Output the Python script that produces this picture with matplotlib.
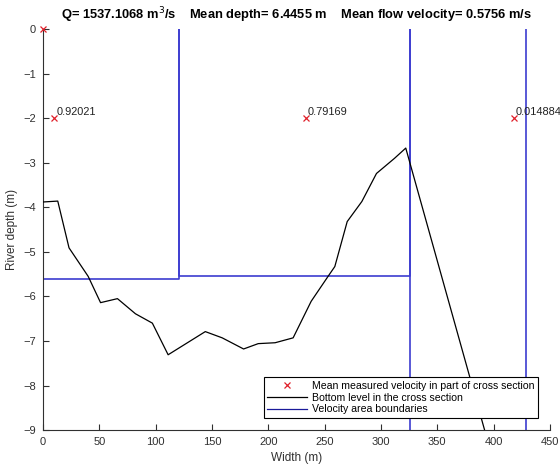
import numpy as np
import matplotlib
matplotlib.use('Agg')
import matplotlib.pyplot as plt

plt.rcParams['font.family'] = ['Liberation Sans', 'DejaVu Sans']

# bottom profile of the cross section
bed_x = [0, 13, 23, 40, 51, 66, 82, 97, 111, 144, 159, 178, 191, 206, 222, 238, 253, 259, 270, 283, 296, 312, 322, 392]
bed_y = [-3.88, -3.86, -4.91, -5.55, -6.14, -6.05, -6.39, -6.6, -7.31, -6.79, -6.93, -7.18, -7.06, -7.04, -6.93,
         -6.11, -5.55, -5.33, -4.32, -3.87, -3.24, -2.9, -2.67, -9.0]

# velocity areas (left/right edges and depth)
area_left = [0, 121, 326]
area_right = [121, 326, 429]
area_depth = [5.6, 5.55, 9.5]

# measured velocity points
vel_x = [0, 10, 233, 418]
vel_y = [0, -2, -2, -2]
vel_labels = ['', '0.92021', '0.79169', '0.014884']

Q = 1537.1068
mean_depth = 6.4455
mean_vel = 0.5756

grey = '#303030'
blue = '#3c3cd0'

fig = plt.figure(figsize=(5.6, 4.7), dpi=100)
ax = fig.add_axes([0.077, 0.085, 0.905, 0.853])

ax.plot(vel_x, vel_y, 'x', color='#e0202a', markersize=5, mew=0.9, linestyle='none',
        label='Mean measured velocity in part of cross section', zorder=4, clip_on=False)
ax.plot(bed_x, bed_y, color='black', lw=0.9, label='Bottom level in the cross section', zorder=3)
for i in range(len(area_left)):
    x0, x1, d = area_left[i], area_right[i], area_depth[i]
    ax.plot([x0, x0, x1, x1], [0, -d, -d, 0], color=blue, lw=1.2,
            label='Velocity area boundaries' if i == 0 else None, zorder=2)

for x, y, s in zip(vel_x, vel_y, vel_labels):
    if s:
        ax.annotate(s, (x, y), xytext=(1.5, 1), textcoords='offset points',
                    fontsize=7.9, color='#222222', va='bottom', ha='left', annotation_clip=False)

ax.set_xlim(0, 450)
ax.set_ylim(-9, 0)
ax.set_xticks(np.arange(0, 451, 50))
ax.set_yticks(np.arange(-9, 1, 1))
ax.tick_params(direction='in', length=4, width=0.8, labelsize=8, colors=grey, pad=5)
ax.spines['top'].set_visible(False)
ax.spines['right'].set_visible(False)
for s in ['left', 'bottom']:
    ax.spines[s].set_color(grey)
    ax.spines[s].set_linewidth(0.8)

ax.set_xlabel('Width (m)', fontsize=8.5, color=grey, labelpad=3.5)
ax.set_ylabel('River depth (m)', fontsize=8.5, color=grey, labelpad=4)
ax.set_title('Q= %.4f m$^3$/s    Mean depth= %.4f m    Mean flow velocity= %.4f m/s' % (Q, mean_depth, mean_vel),
             fontsize=9.3, fontweight='bold', pad=7)

leg = ax.legend(loc='lower right', bbox_to_anchor=(0.976, 0.03), fontsize=7.6, frameon=True, fancybox=False,
                framealpha=1, edgecolor='black', borderpad=0.35, labelspacing=0.15, handlelength=3.8,
                handletextpad=0.4, borderaxespad=0)
leg.get_frame().set_linewidth(0.8)
leg.get_lines()[2].set_color('#1a1a9a')
leg.get_lines()[2].set_linewidth(0.9)

fig.savefig('out.png', dpi=100)
